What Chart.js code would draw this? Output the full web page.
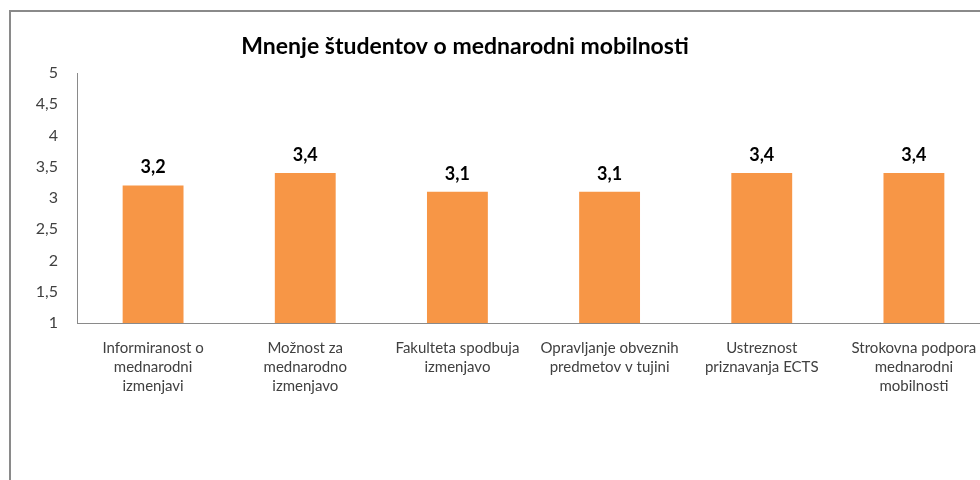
<!DOCTYPE html>
<html>
<head>
<meta charset="utf-8">
<script src="https://cdn.jsdelivr.net/npm/chart.js@4"></script>
<style>
  body { margin: 0; overflow: hidden; background: #fff; }
  #wrap { position: absolute; left: 0; top: 0; width: 990px; height: 480px; }
  #frame { position: absolute; left: 9px; top: 10px; width: 1000px; height: 500px; border: 2px solid #8a8a8a; pointer-events: none; }
</style>
</head>
<body>
<div id="wrap"><canvas id="mobility"></canvas></div>
<div id="frame"></div>
<script>
const categories = [
  ["Informiranost o", "mednarodni", "izmenjavi"],
  ["Možnost za", "mednarodno", "izmenjavo"],
  ["Fakulteta spodbuja", "izmenjavo"],
  ["Opravljanje obveznih", "predmetov v tujini"],
  ["Ustreznost", "priznavanja ECTS"],
  ["Strokovna podpora", "mednarodni", "mobilnosti"],
];
const ratings = [3.2, 3.4, 3.1, 3.1, 3.4, 3.4];
const yTicks = ["1", "1,5", "2", "2,5", "3", "3,5", "4", "4,5", "5"];
const chartTitle = "Mnenje študentov o mednarodni mobilnosti";

const fontFamily = "Lato, 'Open Sans', sans-serif";

// title sits a bit left of centre in the original, so draw it here
const titleText = {
  id: "titleText",
  afterDraw(chart) {
    const ctx = chart.ctx;
    ctx.save();
    ctx.font = "bold 23px " + fontFamily;
    ctx.fillStyle = "#000";
    ctx.textAlign = "center";
    ctx.textBaseline = "middle";
    ctx.fillText(chartTitle, 465, 47);
    ctx.restore();
  },
};

// value labels above the bars
const valueLabels = {
  id: "valueLabels",
  afterDatasetsDraw(chart) {
    const ctx = chart.ctx;
    const meta = chart.getDatasetMeta(0);
    ctx.save();
    ctx.font = "bold 18px " + fontFamily;
    ctx.fillStyle = "#000";
    ctx.textAlign = "center";
    ctx.textBaseline = "bottom";
    meta.data.forEach((bar, i) => {
      ctx.fillText(ratings[i].toFixed(1).replace(".", ","), bar.x, bar.y - 9);
    });
    ctx.restore();
  },
};

const mobility = document.getElementById("mobility");
const mobilityChart = new Chart(mobility, {
  type: "bar",
  data: {
    labels: categories,
    datasets: [
      {
        label: "Ocena",
        backgroundColor: "#F79646",
        data: ratings,
        barPercentage: 0.4,
        categoryPercentage: 1,
      },
    ],
  },
  options: {
    responsive: true,
    maintainAspectRatio: false,
    animation: false,
    layout: { padding: { left: 0, right: 0, top: 73, bottom: 0 } },
    plugins: {
      legend: { display: false },
      tooltip: { enabled: false },
      title: { display: false },
    },
    scales: {
      x: {
        grid: { display: false },
        border: { display: true, color: "#8a8a8a" },
        ticks: {
          color: "#404040",
          font: { family: fontFamily, size: 15, lineHeight: 1.27 },
          maxRotation: 0,
          autoSkip: false,
          padding: 8,
        },
        afterFit(scale) { scale.height = 157; },
      },
      y: {
        min: 1,
        max: 5,
        grid: { display: false },
        border: { display: true, color: "#8a8a8a" },
        ticks: {
          stepSize: 0.5,
          color: "#404040",
          font: { family: fontFamily, size: 16 },
          padding: 11,
          callback: (value) => yTicks[Math.round((value - 1) * 2)],
        },
        afterFit(scale) { scale.width = 77; },
      },
    },
  },
  plugins: [valueLabels, titleText],
});
</script>
</body>
</html>
